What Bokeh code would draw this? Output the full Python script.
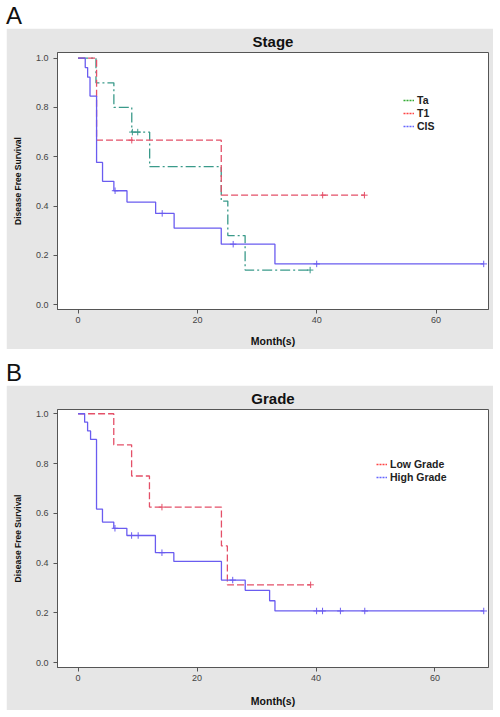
import numpy as np
from bokeh.plotting import figure
from bokeh.models import (Div, Legend, LegendItem, FixedTicker, NumeralTickFormatter,
                          Range1d, ColumnDataSource)
from bokeh.layouts import column
from bokeh.embed import file_html
from bokeh.resources import INLINE

# ---------------- data ----------------
# Panel A: Stage
ta_times = [3.0, 6.0, 9.0, 12.0, 24.0, 25.1, 28.0]
ta_surv = [0.90, 0.80, 0.70, 0.56, 0.42, 0.28, 0.14]
ta_censor = [9.1, 10.0, 38.9]
ta_end = 38.9

t1_times = [3.1, 24.0]
t1_surv = [0.667, 0.444]
t1_censor = [9.0, 41.0, 48.0]
t1_end = 48.0

cis_times = [1.2, 1.6, 2.0, 3.1, 4.1, 6.0, 8.2, 13.0, 16.1, 24.0, 33.0]
cis_surv = [0.962, 0.923, 0.846, 0.577, 0.500, 0.462, 0.416, 0.370, 0.310, 0.245, 0.165]
cis_censor = [6.2, 14.1, 26.0, 40.0, 68.0]
cis_end = 68.0

# Panel B: Grade
low_times = [6.0, 9.0, 12.0, 24.1, 25.1]
low_surv = [0.875, 0.750, 0.625, 0.469, 0.313]
low_censor = [14.1, 39.1]
low_end = 39.1

high_times = [1.1, 1.6, 2.1, 3.1, 4.1, 6.0, 8.2, 13.0, 16.1, 24.1, 28.1, 32.2, 33.1]
high_surv = [0.966, 0.931, 0.897, 0.617, 0.565, 0.540, 0.511, 0.442, 0.407, 0.332, 0.291, 0.249, 0.208]
high_censor = [6.2, 9.0, 10.1, 14.1, 26.0, 40.1, 41.1, 44.1, 48.2, 68.2]
high_end = 68.2

x_ticks = [0, 20, 40, 60]
y_ticks = [0.0, 0.2, 0.4, 0.6, 0.8, 1.0]

FONT = "Liberation Sans"
GRAY = "#e6e6e6"
TEAL = "#3a9a8a"
RED = "#e45068"
BLUE = "#6a5cf0"


def km_xy(times, surv, end):
    xs = [0.0] + list(times) + [end]
    ys = [1.0] + list(surv) + [surv[-1]]
    return xs, ys


def censor_y(times, surv, cens):
    t = np.asarray(times)
    s = np.concatenate([[1.0], np.asarray(surv)])
    idx = np.searchsorted(t, np.asarray(cens), side="right")
    return list(s[idx])


def make_fig(title, height, top, bottom, xr, yr, xlab_standoff):
    p = figure(width=487, height=height, output_backend="svg", toolbar_location=None,
               x_range=Range1d(*xr), y_range=Range1d(*yr),
               min_border_left=51, min_border_right=5,
               min_border_top=top, min_border_bottom=bottom)
    p.title.text = title
    p.title.align = "center"
    p.title.text_font = FONT
    p.title.text_font_size = "15px"
    p.title.text_font_style = "bold"
    p.title.text_color = "#111111"
    p.title.standoff = 5
    p.border_fill_color = GRAY
    p.background_fill_color = "white"
    p.outline_line_color = "#555555"
    p.outline_line_width = 1
    p.xgrid.visible = False
    p.ygrid.visible = False
    for ax in (p.xaxis[0], p.yaxis[0]):
        ax.axis_line_color = "#555555"
        ax.major_tick_line_color = "#555555"
        ax.major_tick_out = 4
        ax.major_tick_in = 0
        ax.minor_tick_line_color = None
        ax.major_label_text_font = FONT
        ax.major_label_text_font_size = "9px"
        ax.major_label_text_color = "#444444"
        ax.axis_label_text_font = FONT
        ax.axis_label_text_font_style = "bold"
        ax.axis_label_text_color = "#111111"
    p.xaxis[0].ticker = FixedTicker(ticks=x_ticks)
    p.yaxis[0].ticker = FixedTicker(ticks=y_ticks)
    p.yaxis[0].formatter = NumeralTickFormatter(format="0.0")
    p.xaxis[0].major_label_standoff = 3
    p.xaxis[0].axis_label = "Month(s)"
    p.xaxis[0].axis_label_text_font_size = "10.5px"
    p.xaxis[0].axis_label_standoff = xlab_standoff
    p.yaxis[0].axis_label = "Disease Free Survival"
    p.yaxis[0].axis_label_text_font_size = "8.5px"
    p.yaxis[0].axis_label_standoff = 10
    return p


def add_curve(p, times, surv, end, cens, color, dash):
    xs, ys = km_xy(times, surv, end)
    p.step(xs, ys, mode="after", line_color=color, line_width=1.3, line_dash=dash)
    src = ColumnDataSource(dict(x=cens, y=censor_y(times, surv, cens)))
    p.scatter("x", "y", source=src, marker="cross", size=6.5, line_color=color, line_width=1)


def add_legend(p, labels, colors, loc):
    items = []
    for lab, col in zip(labels, colors):
        r = p.line(x=[-50, -49], y=[-5, -5], line_color=col, line_width=1.6, line_dash="2 1")
        items.append(LegendItem(label=lab, renderers=[r]))
    leg = Legend(items=items, location=loc, padding=0, margin=0, spacing=1,
                 label_height=12, glyph_height=12, glyph_width=11, label_standoff=3,
                 border_line_color=None, background_fill_alpha=0,
                 label_text_font=FONT, label_text_font_style="bold",
                 label_text_font_size="10.5px", label_text_color="#222222")
    p.add_layout(leg, "center")


# Panel A
pa = make_fig("Stage", 321, 23, 39, (-3.45, 68.8), (-0.020, 1.023), 9)
add_curve(pa, ta_times, ta_surv, ta_end, ta_censor, TEAL, "10 3 2 3")
add_curve(pa, t1_times, t1_surv, t1_end, t1_censor, RED, "7 3")
add_curve(pa, cis_times, cis_surv, cis_end, cis_censor, BLUE, "solid")
add_legend(pa, ["Ta", "T1", "CIS"], ["#33aa33", "#ff4444", "#6666ff"], (346, 177))

# Panel B
pb = make_fig("Grade", 325, 23, 43, (-3.46, 69.0), (-0.019, 1.017), 11)
add_curve(pb, low_times, low_surv, low_end, low_censor, RED, "7 3")
add_curve(pb, high_times, high_surv, high_end, high_censor, BLUE, "solid")
add_legend(pb, ["Low Grade", "High Grade"], ["#ff4444", "#6666ff"], (319, 184))

div_a = Div(text="A", width=487, height=28, margin=0,
            styles={"font-family": FONT, "font-size": "24px", "line-height": "32px",
                    "color": "#111111"})
div_b = Div(text="B", width=487, height=36, margin=0,
            styles={"font-family": FONT, "font-size": "24px", "line-height": "17.4px",
                    "padding-top": "15px", "color": "#111111"})

layout = column(div_a, pa, div_b, pb, spacing=0, margin=(0, 0, 0, 6))
open("out.html", "w").write(file_html(layout, INLINE))
